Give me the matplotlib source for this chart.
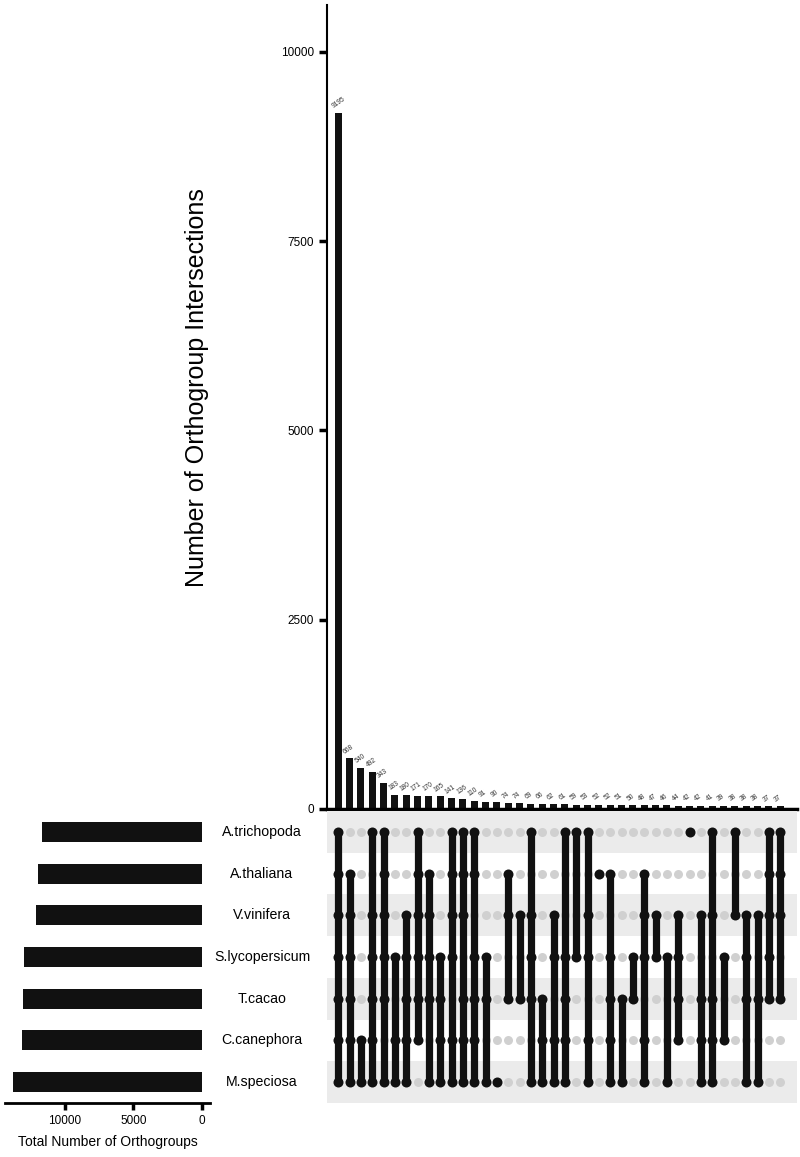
import matplotlib.pyplot as plt
from matplotlib import transforms

plt.rcParams['font.family'] = ['Liberation Sans', 'DejaVu Sans']

# sets, top to bottom
species = ['A.trichopoda', 'A.thaliana', 'V.vinifera', 'S.lycopersicum',
           'T.cacao', 'C.canephora', 'M.speciosa']
set_sizes = [11700, 12000, 12130, 13010, 13110, 13180, 13840]

# intersections, left to right
inter_sizes = [9195, 668, 540, 492, 343, 183, 180, 171, 170, 165,
               141, 136, 110, 91, 90, 74, 74, 69, 66, 62,
               61, 59, 53, 52, 52, 51, 50, 48, 47, 46,
               44, 42, 42, 41, 39, 38, 38, 38, 37, 37]
# row indices (0 = A.trichopoda) in each intersection
inter_sets = [
    [0, 1, 2, 3, 4, 5, 6], [1, 2, 3, 4, 5, 6], [5, 6], [0, 2, 3, 4, 5, 6],
    [0, 1, 2, 3, 4, 6], [3, 5, 6], [2, 3, 4, 5, 6], [0, 1, 2, 3, 4, 5],
    [1, 2, 3, 4, 6], [3, 4, 5, 6],
    [0, 1, 2, 3, 5, 6], [0, 1, 2, 4, 5, 6], [0, 1, 3, 4, 5, 6],
    [3, 4, 6], [6], [1, 2, 4], [2, 4], [0, 2, 3, 4, 6],
    [4, 5, 6], [2, 3, 5, 6],
    [0, 3, 4, 5, 6], [0, 3], [0, 2, 3, 5, 6], [1],
    [1, 3, 4, 5, 6], [4, 6], [3, 4], [1, 2, 3, 5, 6], [2, 3],
    [3, 6],
    [2, 3, 4, 5], [0], [2, 4, 5, 6], [0, 2, 4, 5, 6], [3, 5],
    [0, 2], [2, 3, 4, 6], [2, 4, 6], [0, 1, 2, 3, 4],
    [0, 1, 2, 4],
]

black = '#111111'
n_cols = len(inter_sizes)
n_rows = len(species)
xlim = (-0.97, n_cols + 0.5)

fig = plt.figure(figsize=(8, 11.57), dpi=100)
ax_bar = fig.add_axes([0.409, 0.3008, 0.5875, 0.695])
ax_mat = fig.add_axes([0.409, 0.0467, 0.5875, 0.2524])
ax_set = fig.add_axes([0.00625, 0.0467, 0.256, 0.2524])

# intersection size bars
ax_bar.bar(range(n_cols), inter_sizes, width=0.6, color=black)
for i, v in enumerate(inter_sizes):
    ax_bar.text(i - 0.3, v + 40, str(v), rotation=35, rotation_mode='anchor',
                ha='left', va='bottom', fontsize=4.8, color='#333333')
ax_bar.set_xlim(*xlim)
ax_bar.set_ylim(0, 10620)
ax_bar.set_xticks([])
ax_bar.set_yticks([0, 2500, 5000, 7500, 10000])
ax_bar.tick_params(axis='y', width=2.5, length=6, labelsize=8.5)
for s in ['top', 'right']:
    ax_bar.spines[s].set_visible(False)
ax_bar.spines['bottom'].set_linewidth(2.5)
ax_bar.spines['left'].set_linewidth(1.5)
fig.text(197 / 800, 1 - 388 / 1157, 'Number of Orthogroup Intersections',
         rotation=90, ha='center', va='center', fontsize=18)

# matrix
for r in range(0, n_rows, 2):
    ax_mat.axhspan(r - 0.5, r + 0.5, color='#ebebeb', lw=0, zorder=0)
for c in range(n_cols):
    ax_mat.scatter([c] * n_rows, range(n_rows), s=42, color='#d0d0d0',
                   lw=0, zorder=1)
for c, rows in enumerate(inter_sets):
    ax_mat.scatter([c] * len(rows), rows, s=52, color=black, lw=0, zorder=3)
    if len(rows) > 1:
        ax_mat.plot([c, c], [min(rows), max(rows)], color=black, lw=5.2,
                    solid_capstyle='butt', zorder=2)
ax_mat.set_xlim(*xlim)
ax_mat.set_ylim(n_rows - 0.5, -0.5)
ax_mat.axis('off')

# species labels
trans = transforms.blended_transform_factory(fig.transFigure, ax_mat.transData)
for r, name in enumerate(species):
    ax_mat.text(262 / 800, r, name, transform=trans, ha='center', va='center',
                fontsize=10.2)

# set sizes
ax_set.barh(range(n_rows), set_sizes, height=0.48, color=black)
ax_set.set_xlim(14400, -600)
ax_set.set_ylim(n_rows - 0.5, -0.5)
ax_set.set_yticks([])
ax_set.set_xticks([10000, 5000, 0])
ax_set.tick_params(axis='x', width=2.5, length=5, labelsize=8.5)
for s in ['top', 'right', 'left']:
    ax_set.spines[s].set_visible(False)
ax_set.spines['bottom'].set_linewidth(2)
ax_set.set_xlabel('Total Number of Orthogroups', fontsize=10, labelpad=6)

fig.savefig('out.png', dpi=100)
